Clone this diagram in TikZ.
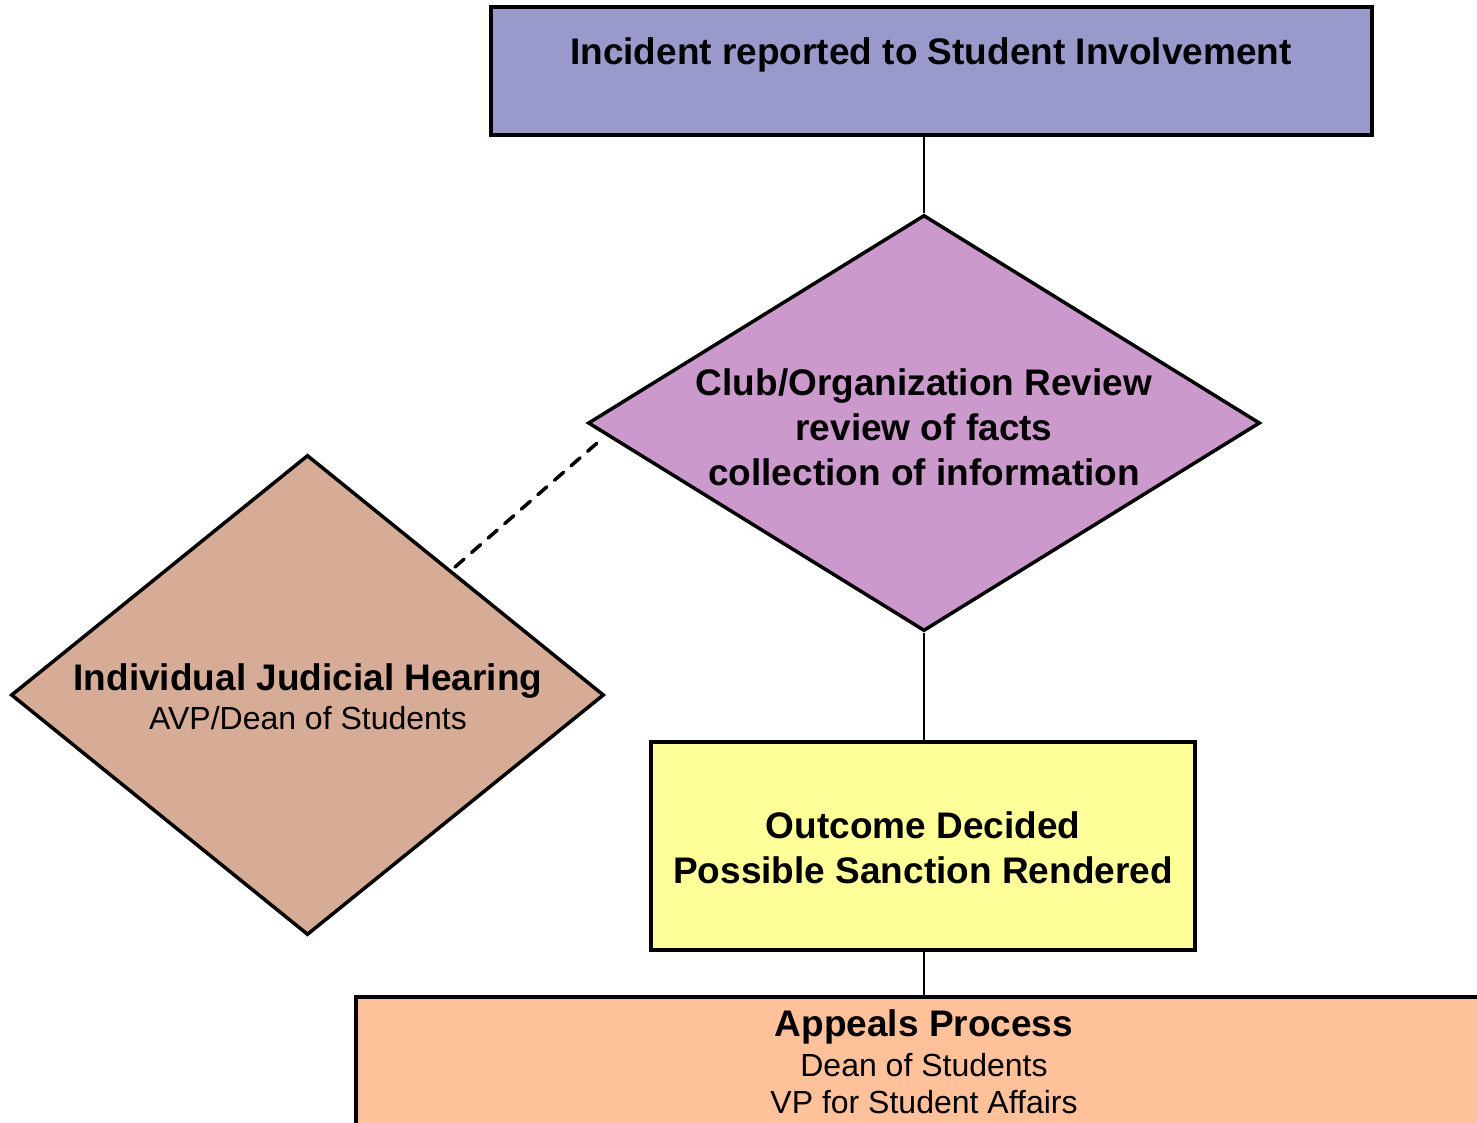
\documentclass[tikz,border=0pt]{standalone}
\usepackage{fontspec}
\setmainfont{Liberation Sans}
\usetikzlibrary{shapes.geometric}
\definecolor{topblue}{RGB}{153,153,204}
\definecolor{revpurple}{RGB}{204,153,204}
\definecolor{heartan}{RGB}{214,172,151}
\definecolor{outyellow}{RGB}{255,255,153}
\definecolor{apporange}{RGB}{255,193,153}
\tikzset{
  boxshape/.style={draw=black, line width=3.5pt, rectangle, inner sep=0pt},
  diashape/.style={draw=black, line width=3.5pt, diamond, inner sep=0pt},
  bigtxt/.style={anchor=base, inner sep=0pt, font=\fontsize{37}{44}\selectfont\bfseries},
  smalltxt/.style={anchor=base, inner sep=0pt, font=\fontsize{32}{38}\selectfont},
  link/.style={draw=black, line width=2.5pt},
  dashlink/.style={draw=black, line width=3.5pt, line cap=round, dash pattern=on 12pt off 10pt}
}
\begin{document}
\begin{tikzpicture}[x=1pt, y=-1pt]
\useasboundingbox (0,0) rectangle (1477,1123);
\clip (0,0) rectangle (1477,1123);
\fill[white] (0,0) rectangle (1477,1123);
% shapes
\node[boxshape, fill=topblue, minimum width=881pt, minimum height=128pt] (incident) at (931.5,71) {};
\node[diashape, fill=revpurple, minimum width=672pt, minimum height=416pt] (review) at (924,423) {};
\node[diashape, fill=heartan, minimum width=593pt, minimum height=480pt] (hearing) at (307.5,695) {};
\node[boxshape, fill=outyellow, minimum width=544pt, minimum height=208pt] (outcome) at (923,846) {};
\node[boxshape, fill=apporange, minimum width=1144pt, minimum height=160pt] (appeals) at (928,1077) {};
% connectors
\draw[link] (incident.south -| review.north) -- (review.north);
\draw[link] (review.south) -- (outcome.north -| review.south);
\draw[link] (outcome.south -| review.south) -- (appeals.north -| review.south);
\coordinate (dashA) at (604,437);
\coordinate (dashB) at (455,567);
\draw[dashlink] (dashB) -- (dashA);
% texts
\node[bigtxt] (t1) at (931,65) {Incident reported to Student Involvement};
\node[bigtxt] (t2) at (924,395) {Club/Organization Review};
\node[bigtxt] (t3) at (924,440) {review of facts};
\node[bigtxt] (t4) at (924,485) {collection of information};
\node[bigtxt] (t5) at (308,690) {Individual Judicial Hearing};
\node[smalltxt] (t6) at (308,729) {AVP/Dean of Students};
\node[bigtxt] (t7) at (923,838) {Outcome Decided};
\node[bigtxt] (t8) at (923,883) {Possible Sanction Rendered};
\node[bigtxt] (t9) at (924,1036) {Appeals Process};
\node[smalltxt] (t10) at (924,1076) {Dean of Students};
\node[smalltxt] (t11) at (924,1113) {VP for Student Affairs};
\end{tikzpicture}
\end{document}
